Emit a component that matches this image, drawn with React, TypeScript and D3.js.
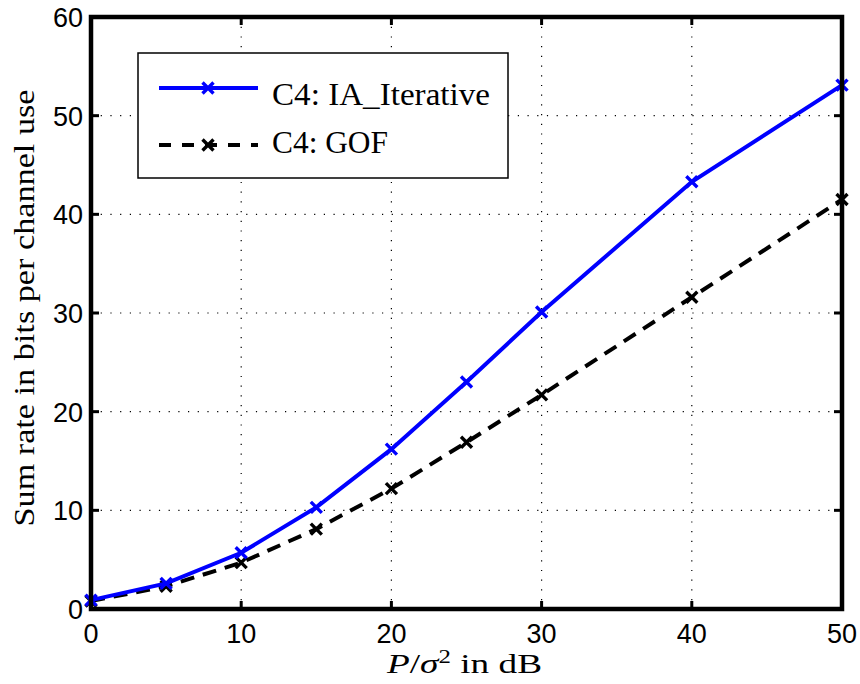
import React from "react";
import * as d3 from "d3";

const xValues = [0, 5, 10, 15, 20, 25, 30, 40, 50];
const iaIterative = [0.9, 2.6, 5.7, 10.3, 16.2, 23.0, 30.1, 43.3, 53.1];
const gof = [0.8, 2.3, 4.7, 8.1, 12.2, 16.9, 21.7, 31.6, 41.5];
const xTicks = [0, 10, 20, 30, 40, 50];
const yTicks = [0, 10, 20, 30, 40, 50, 60];
const seriesNames = ["C4:  IA_Iterative", "C4:  GOF"];

const W = 860, H = 684;
const m = { left: 91, right: 842, top: 17, bottom: 609 };

export default function App() {
  const x = d3.scaleLinear().domain([0, 50]).range([m.left, m.right]);
  const y = d3.scaleLinear().domain([0, 60]).range([m.bottom, m.top]);
  const line = d3.line<number>().x((_, i) => x(xValues[i])).y((d) => y(d));
  const serif = "'Liberation Serif', 'DejaVu Serif', serif";
  const sans = "'Liberation Sans', Arial, sans-serif";

  const marker = (cx: number, cy: number, color: string, k: string) => (
    <path key={k} d={`M${cx - 5.5},${cy - 5.5}L${cx + 5.5},${cy + 5.5}M${cx - 5.5},${cy + 5.5}L${cx + 5.5},${cy - 5.5}`}
      stroke={color} strokeWidth={3.4} fill="none" />
  );

  return (
    <svg width={W} height={H} style={{ position: "absolute", left: 0, top: 0, background: "#fff" }}>
      <rect x={0} y={0} width={W} height={H} fill="#fff" />
      {/* grid */}
      {xTicks.slice(1, -1).map((t) => (
        <line key={"gx" + t} x1={x(t)} x2={x(t)} y1={m.top} y2={m.bottom} stroke="#000" strokeWidth={1.2} strokeDasharray="1.2,8.5" />
      ))}
      {yTicks.slice(1, -1).map((t) => (
        <line key={"gy" + t} x1={m.left} x2={m.right} y1={y(t)} y2={y(t)} stroke="#000" strokeWidth={1.2} strokeDasharray="1.2,8.5" />
      ))}
      {/* ticks */}
      {xTicks.map((t) => (
        <g key={"tx" + t}>
          <line x1={x(t)} x2={x(t)} y1={m.bottom} y2={m.bottom - 8} stroke="#000" strokeWidth={3} />
          <line x1={x(t)} x2={x(t)} y1={m.top} y2={m.top + 8} stroke="#000" strokeWidth={3} />
          <text x={x(t)} y={643} textAnchor="middle" fontFamily={sans} fontSize={27}>{t}</text>
        </g>
      ))}
      {yTicks.map((t) => (
        <g key={"ty" + t}>
          <line x1={m.left} x2={m.left + 8} y1={y(t)} y2={y(t)} stroke="#000" strokeWidth={3} />
          <line x1={m.right} x2={m.right - 8} y1={y(t)} y2={y(t)} stroke="#000" strokeWidth={3} />
          <text x={83} y={y(t) + 10} textAnchor="end" fontFamily={sans} fontSize={27}>{t}</text>
        </g>
      ))}
      {/* series */}
      <path d={line(gof) || ""} fill="none" stroke="#000" strokeWidth={4} strokeDasharray="14,9" />
      {gof.map((v, i) => marker(x(xValues[i]), y(v), "#000", "g" + i))}
      <path d={line(iaIterative) || ""} fill="none" stroke="#0000ff" strokeWidth={4} />
      {iaIterative.map((v, i) => marker(x(xValues[i]), y(v), "#0000ff", "b" + i))}
      {/* box */}
      <rect x={m.left} y={m.top} width={m.right - m.left} height={m.bottom - m.top} fill="none" stroke="#000" strokeWidth={4.5} />
      {/* legend */}
      <rect x={138} y={53} width={370} height={125} fill="#fff" stroke="#000" strokeWidth={1.5} />
      <line x1={159} x2={258} y1={88} y2={88} stroke="#0000ff" strokeWidth={4} />
      {marker(208, 88, "#0000ff", "lb")}
      <text x={272} y={105} fontFamily={serif} fontSize={32} textLength={218} lengthAdjust="spacingAndGlyphs">{seriesNames[0]}</text>
      <line x1={159} x2={258} y1={145} y2={145} stroke="#000" strokeWidth={4} strokeDasharray="12,11" />
      {marker(208, 145, "#000", "lg")}
      <text x={272} y={153} fontFamily={serif} fontSize={32} textLength={116} lengthAdjust="spacingAndGlyphs">{seriesNames[1]}</text>
      {/* axis labels */}
      <text x={387} y={673} fontFamily={serif} fontSize={27} textLength={155} lengthAdjust="spacingAndGlyphs">
        <tspan fontStyle="italic">P</tspan>/<tspan fontStyle="italic">σ</tspan><tspan fontSize={18} dy={-10}>2</tspan><tspan dy={10}>{"  in dB"}</tspan>
      </text>
      <text transform={`translate(34,308) rotate(-90)`} textAnchor="middle" fontFamily={serif} fontSize={29} textLength={437} lengthAdjust="spacingAndGlyphs">
        Sum rate in bits per channel use
      </text>
    </svg>
  );
}
